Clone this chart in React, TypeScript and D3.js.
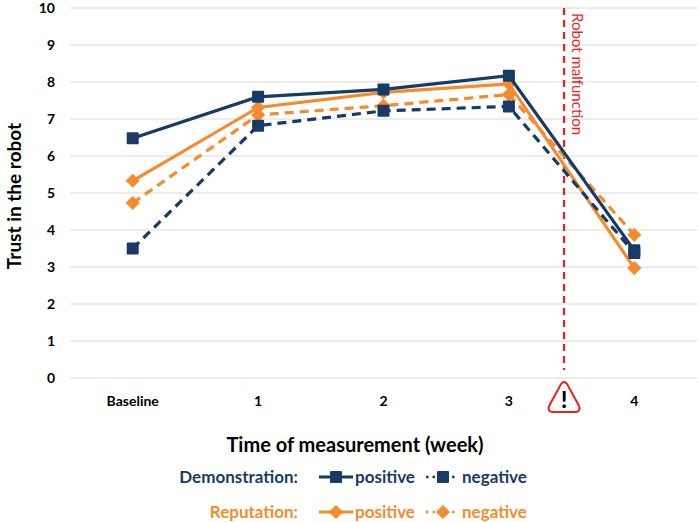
import React from "react";
import * as d3 from "d3";

const categories = ["Baseline", "1", "2", "3", "4"];
const demoPositive = [6.48, 7.6, 7.8, 8.17, 3.45];
const demoNegative = [3.5, 6.82, 7.22, 7.34, 3.38];
const repPositive = [5.33, 7.31, 7.72, 7.95, 2.97];
const repNegative = [4.73, 7.11, 7.36, 7.66, 3.87];
const yTicks = [0, 1, 2, 3, 4, 5, 6, 7, 8, 9, 10];

const NAVY = "#173A66";
const ORANGE = "#F68B2E";
const RED = "#F01E1E";
const FONT = "Lato, 'Open Sans', sans-serif";

const W = 699;
const H = 522;

const series = [
  { name: "repPositive", values: repPositive, color: ORANGE, dash: null, marker: "diamond" },
  { name: "repNegative", values: repNegative, color: ORANGE, dash: "9,6", marker: "diamond" },
  { name: "demoPositive", values: demoPositive, color: NAVY, dash: null, marker: "square" },
  { name: "demoNegative", values: demoNegative, color: NAVY, dash: "9,6", marker: "square" },
];

const Marker = ({ x, y, kind, color }: { x: number; y: number; kind: string; color: string }) =>
  kind === "square" ? (
    <rect x={x - 6} y={y - 6} width={12} height={12} fill={color} rx={1} />
  ) : (
    <rect
      x={x - 5}
      y={y - 5}
      width={10}
      height={10}
      fill={color}
      transform={`rotate(45 ${x} ${y})`}
    />
  );

export default function App() {
  const x = d3.scalePoint<string>().domain(categories).range([70, 697]).padding(0.5);
  const step = x.step();
  const y = d3.scaleLinear().domain([0, 10]).range([378, 8]);

  const line = d3
    .line<number>()
    .x((_, i) => x(categories[i]) as number)
    .y((d) => y(d));

  // Position of the malfunction between week 3 and week 4
  const malX = (x("3") as number) + step * 0.44;

  const legendRows = [
    { label: "Demonstration:", color: NAVY, marker: "square", y: 477 },
    { label: "Reputation:", color: ORANGE, marker: "diamond", y: 512 },
  ];

  return (
    <div style={{ position: "absolute", left: 0, top: 0 }}>
      <svg width={W} height={H} style={{ display: "block", background: "#fff" }} fontFamily={FONT}>
        {/* gridlines */}
        {yTicks.map((t) => (
          <line key={t} x1={70} x2={697} y1={y(t)} y2={y(t)} stroke="#d9d9d9" strokeWidth={1} />
        ))}
        {yTicks.map((t) => (
          <text
            key={t}
            x={55}
            y={y(t)}
            dy="0.35em"
            textAnchor="end"
            fontSize={14}
            fontWeight="bold"
            fill="#000"
          >
            {t}
          </text>
        ))}
        {categories.map((c) => (
          <text
            key={c}
            x={x(c)}
            y={406}
            textAnchor="middle"
            fontSize={14}
            fontWeight="bold"
            fill="#000"
          >
            {c}
          </text>
        ))}

        {/* malfunction marker */}
        <line x1={malX} x2={malX} y1={8} y2={370} stroke={RED} strokeWidth={2.2} strokeDasharray="7,5" />
        <text
          transform={`translate(${malX + 13},13) rotate(90)`}
          fontSize={15}
          fill={RED}
          dy="0.35em"
        >
          Robot malfunction
        </text>
        <path
          d={`M${malX - 3},${384} Q${malX},${380} ${malX + 3},${384} L${malX + 15},${406} Q${malX + 17},${412} ${malX + 11},${412} L${malX - 11},${412} Q${malX - 17},${412} ${malX - 15},${406} Z`}
          fill="#fff"
          stroke={RED}
          strokeWidth={2}
        />
        <text x={malX} y={408} textAnchor="middle" fontSize={22} fontWeight="900" fill="#000">
          !
        </text>

        {/* series */}
        {series.map((s) => (
          <g key={s.name}>
            <path
              d={line(s.values) || ""}
              fill="none"
              stroke={s.color}
              strokeWidth={3.2}
              strokeDasharray={s.dash || undefined}
            />
            {s.values.map((v, i) => (
              <Marker key={i} x={x(categories[i]) as number} y={y(v)} kind={s.marker} color={s.color} />
            ))}
          </g>
        ))}

        {/* axis titles */}
        <text
          transform={`translate(21,196) rotate(-90)`}
          textAnchor="middle"
          fontSize={19}
          fontWeight="bold"
          fill="#000"
        >
          Trust in the robot
        </text>
        <text x={355} y={452} textAnchor="middle" fontSize={20} fontWeight="bold" fill="#000">
          Time of measurement (week)
        </text>

        {/* legend */}
        {legendRows.map((r) => (
          <g key={r.label} fontSize={17} fontWeight="bold" fill={r.color}>
            <text x={298} y={r.y} dy="0.35em" textAnchor="end">
              {r.label}
            </text>
            <line x1={319} x2={353} y1={r.y} y2={r.y} stroke={r.color} strokeWidth={3} />
            <Marker x={336} y={r.y} kind={r.marker} color={r.color} />
            <text x={355} y={r.y} dy="0.35em">
              positive
            </text>
            <line x1={426} x2={458} y1={r.y} y2={r.y} stroke={r.color} strokeWidth={2.5} strokeDasharray="2.5,4" />
            <rect x={436} y={r.y - 6} width={14} height={12} fill="#fff" />
            <Marker x={443} y={r.y} kind={r.marker} color={r.color} />
            <text x={462} y={r.y} dy="0.35em">
              negative
            </text>
          </g>
        ))}
      </svg>
    </div>
  );
}
